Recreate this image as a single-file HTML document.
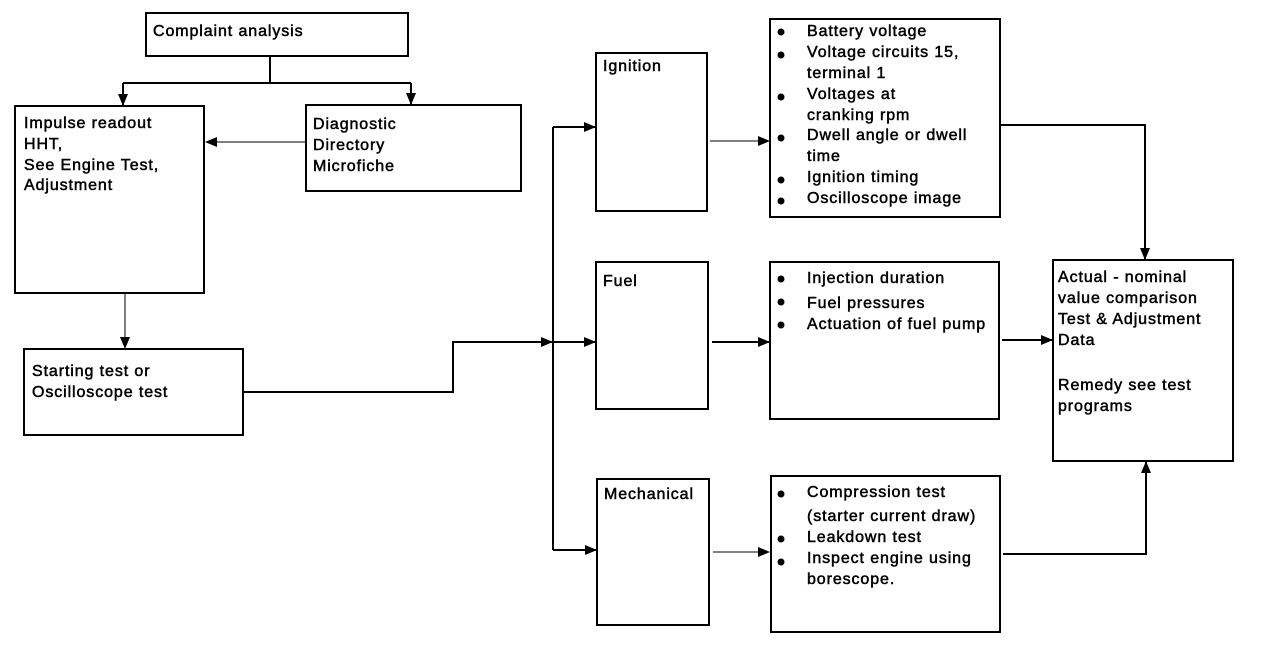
<!DOCTYPE html>
<html><head><meta charset="utf-8"><style>
html,body{margin:0;padding:0;background:#fff;}
svg{display:block;}
text{font-family:"Liberation Sans",Arial,sans-serif;font-size:16px;letter-spacing:0.9px;fill:#000;stroke:#000;stroke-width:0.5px;}
.b{fill:#fff;stroke:#000;stroke-width:2;}
.l{fill:none;stroke:#000;stroke-width:2;}
.t{fill:none;stroke:#000;stroke-width:1;}
</style></head><body>
<svg width="1264" height="648" viewBox="0 0 1264 648" xmlns="http://www.w3.org/2000/svg">
<defs>
<marker id="a" markerWidth="12" markerHeight="10" refX="11" refY="5" orient="auto" markerUnits="userSpaceOnUse">
<path d="M0,0 L12,5 L0,10 Z" fill="#000"/></marker>
</defs>
<rect class="b" x="146" y="13" width="262" height="43"/>
<rect class="b" x="15" y="106" width="189" height="187"/>
<rect class="b" x="306" y="105" width="215" height="86"/>
<rect class="b" x="24" y="349" width="219" height="86"/>
<rect class="b" x="596" y="53" width="111" height="158"/>
<rect class="b" x="596" y="262" width="112" height="147"/>
<rect class="b" x="597" y="479" width="112" height="146"/>
<rect class="b" x="770" y="19" width="230" height="198"/>
<rect class="b" x="770" y="262" width="229" height="157"/>
<rect class="b" x="771" y="476" width="229" height="156"/>
<rect class="b" x="1053" y="260" width="180" height="201"/>

<path class="l" d="M270,56 V83 M123,83 H411"/>
<path class="l" d="M123,83 V105" marker-end="url(#a)"/>
<path class="l" d="M411,83 V104" marker-end="url(#a)"/>
<path class="t" d="M306,142 H206" marker-end="url(#a)"/>
<path class="t" d="M125,293 V348" marker-end="url(#a)"/>
<path class="l" d="M243,392 H453 V342 H552" marker-end="url(#a)"/>
<path class="l" d="M553,127 V550"/>
<path class="l" d="M553,127 H595" marker-end="url(#a)"/>
<path class="l" d="M553,342 H595" marker-end="url(#a)"/>
<path class="l" d="M553,550 H596" marker-end="url(#a)"/>
<path class="t" d="M710,141 H769" marker-end="url(#a)"/>
<path class="l" d="M712,342 H769" marker-end="url(#a)"/>
<path class="t" d="M713,552 H769" marker-end="url(#a)"/>
<path class="l" d="M1000,125 H1145 V259" marker-end="url(#a)"/>
<path class="l" d="M1002,340 H1052" marker-end="url(#a)"/>
<path class="l" d="M1003,554 H1146 V462" marker-end="url(#a)"/>

<text x="153" y="36">Complaint analysis</text>
<text x="24" y="128">Impulse readout</text>
<text x="24" y="149">HHT,</text>
<text x="24" y="170">See Engine Test,</text>
<text x="24" y="190">Adjustment</text>
<text x="313" y="129">Diagnostic</text>
<text x="313" y="150">Directory</text>
<text x="313" y="171">Microfiche</text>
<text x="32" y="376">Starting test or</text>
<text x="32" y="397">Oscilloscope test</text>
<text x="603" y="71">Ignition</text>
<text x="603" y="286">Fuel</text>
<text x="604" y="499">Mechanical</text>

<g fill="#000">
<circle cx="781" cy="32" r="3.5"/><circle cx="781" cy="55" r="3.5"/><circle cx="781" cy="97" r="3.5"/>
<circle cx="781" cy="138" r="3.5"/><circle cx="781" cy="180" r="3.5"/><circle cx="781" cy="201" r="3.5"/>
<circle cx="781" cy="279" r="3.5"/><circle cx="781" cy="302" r="3.5"/><circle cx="781" cy="325" r="3.5"/>
<circle cx="781" cy="494" r="3.5"/><circle cx="781" cy="539" r="3.5"/><circle cx="781" cy="562" r="3.5"/>
</g>
<text x="807" y="36">Battery voltage</text>
<text x="807" y="57">Voltage circuits 15,</text>
<text x="807" y="78">terminal 1</text>
<text x="807" y="99">Voltages at</text>
<text x="807" y="120">cranking rpm</text>
<text x="807" y="140">Dwell angle or dwell</text>
<text x="807" y="161">time</text>
<text x="807" y="182">Ignition timing</text>
<text x="807" y="203">Oscilloscope image</text>

<text x="807" y="283">Injection duration</text>
<text x="807" y="308">Fuel pressures</text>
<text x="807" y="329">Actuation of fuel pump</text>

<text x="807" y="497">Compression test</text>
<text x="807" y="521">(starter current draw)</text>
<text x="807" y="542">Leakdown test</text>
<text x="807" y="563">Inspect engine using</text>
<text x="807" y="584">borescope.</text>

<text x="1058" y="282">Actual - nominal</text>
<text x="1058" y="303">value comparison</text>
<text x="1058" y="324">Test &amp; Adjustment</text>
<text x="1058" y="345">Data</text>
<text x="1058" y="390">Remedy see test</text>
<text x="1058" y="411">programs</text>
</svg>
</body></html>
